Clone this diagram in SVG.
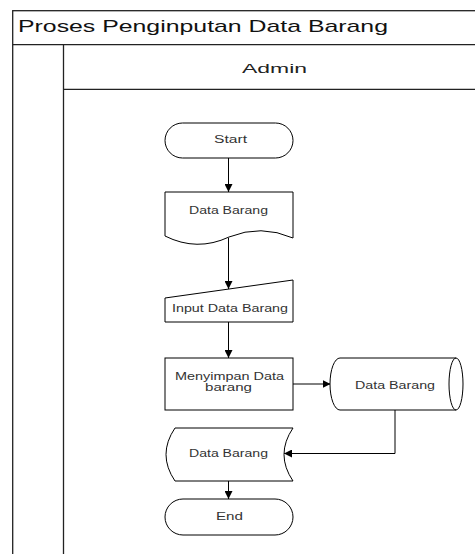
<svg xmlns="http://www.w3.org/2000/svg" width="475" height="554" viewBox="0 0 475 554">
<defs>
<marker id="arr" viewBox="0 0 10 10" refX="10" refY="5" markerWidth="8" markerHeight="8" markerUnits="userSpaceOnUse" orient="auto">
<path d="M0,0 L10,5 L0,10 Z" fill="#000"/>
</marker>
<style>
.frame{fill:none;stroke:#222;stroke-width:1.3}
.shape{fill:#fff;stroke:#000;stroke-width:1}
.conn{fill:none;stroke:#000;stroke-width:1}
.lbl{font-family:"Liberation Sans",Arial,sans-serif;font-size:10px;fill:#333}
.ttl{font-family:"Liberation Sans",Arial,sans-serif;font-size:17px;fill:#111}
.hdr{font-family:"Liberation Sans",Arial,sans-serif;font-size:12px;fill:#222}
</style>
</defs>
<rect width="475" height="554" fill="#fff"/>
<g id="pool">
<rect class="frame" x="12.7" y="10.7" width="500" height="560"/>
<line class="frame" x1="12.7" y1="44.7" x2="480" y2="44.7"/>
<line class="frame" x1="63.5" y1="44.7" x2="63.5" y2="560"/>
<line class="frame" x1="63.5" y1="89.3" x2="480" y2="89.3"/>
<text class="ttl" x="18" y="32" textLength="370" lengthAdjust="spacingAndGlyphs">Proses Penginputan Data Barang</text>
<text class="hdr" x="242" y="73" textLength="65" lengthAdjust="spacingAndGlyphs">Admin</text>
</g>
<g id="connectors">
<line class="conn" x1="228.5" y1="158" x2="228.5" y2="192" marker-end="url(#arr)"/>
<line class="conn" x1="228.5" y1="238" x2="228.5" y2="289" marker-end="url(#arr)"/>
<line class="conn" x1="228.5" y1="322" x2="228.5" y2="358" marker-end="url(#arr)"/>
<line class="conn" x1="293" y1="384" x2="330.5" y2="384" marker-end="url(#arr)"/>
<polyline class="conn" points="395,410 395,453.5 284,453.5" marker-end="url(#arr)"/>
<line class="conn" x1="228.5" y1="481" x2="228.5" y2="499" marker-end="url(#arr)"/>
</g>
<g id="start">
<rect class="shape" x="165" y="123" width="128" height="35" rx="17.5"/>
<text class="lbl" x="214" y="142.5" textLength="33" lengthAdjust="spacingAndGlyphs">Start</text>
</g>
<g id="doc">
<path class="shape" d="M165,192 H293 V238 Q261,224 229,237 Q197,252 165,236 Z"/>
<text class="lbl" x="189" y="213.5" textLength="79" lengthAdjust="spacingAndGlyphs">Data Barang</text>
</g>
<g id="input">
<polygon class="shape" points="165,298 293,280 293,322 165,322"/>
<text class="lbl" x="172" y="311.5" textLength="116" lengthAdjust="spacingAndGlyphs">Input Data Barang</text>
</g>
<g id="process">
<rect class="shape" x="165" y="358" width="128" height="52"/>
<text class="lbl" x="175" y="379.5" textLength="109" lengthAdjust="spacingAndGlyphs">Menyimpan Data</text>
<text class="lbl" x="205" y="390.5" textLength="47" lengthAdjust="spacingAndGlyphs">barang</text>
</g>
<g id="store">
<path class="shape" d="M340,358 H456 A7,26 0 0 1 456,410 H340 A10,26 0 0 1 340,358 Z"/>
<path class="conn" d="M456,358 A7,26 0 0 0 456,410"/>
<text class="lbl" x="355" y="388.5" textLength="80" lengthAdjust="spacingAndGlyphs">Data Barang</text>
</g>
<g id="display">
<path class="shape" d="M175,428 H293 Q275,454.5 293,481 H175 Q157,454.5 175,428 Z"/>
<text class="lbl" x="189" y="456.5" textLength="79" lengthAdjust="spacingAndGlyphs">Data Barang</text>
</g>
<g id="end">
<rect class="shape" x="165" y="499" width="128" height="36" rx="18"/>
<text class="lbl" x="216" y="519.5" textLength="27" lengthAdjust="spacingAndGlyphs">End</text>
</g>
</svg>
